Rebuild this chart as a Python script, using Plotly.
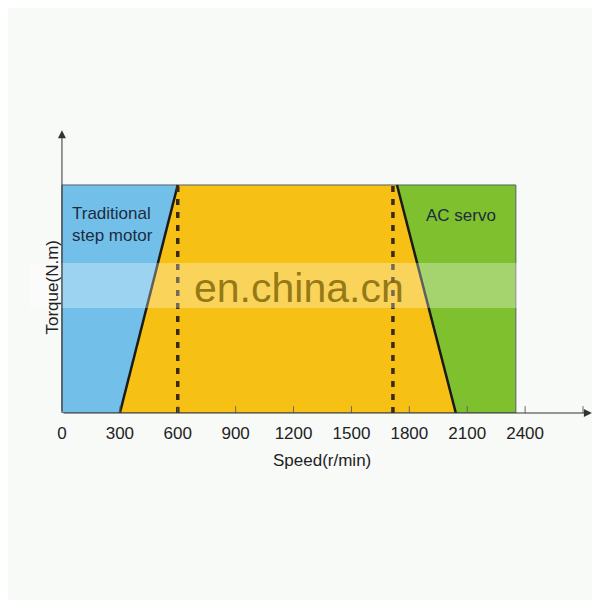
import plotly.graph_objects as go

# ---- data ----
tick_values = [0, 300, 600, 900, 1200, 1500, 1800, 2100, 2400, 2700]
tick_labels = ["0", "300", "600", "900", "1200", "1500", "1800", "2100", "2400", ""]

torque_top = 1.0
step_motor_x = [0, 300, 600, 0]          # blue region (traditional step motor)
step_motor_y = [0, 0, 1, 1]
overlap_x = [300, 600, 1736, 2041]        # yellow region
overlap_y = [0, 1, 1, 0]
servo_x = [1736, 2352, 2352, 2041]        # green region (AC servo)
servo_y = [1, 1, 0, 0]
dashed_speeds = [600, 1715]

BLUE = "#72C0EA"
YELLOW = "#F6C114"
GREEN = "#7EC02E"
TEXT = "#1E2C40"

fig = go.Figure()

def closed(xs, ys):
    return xs + [xs[0]], ys + [ys[0]]

for xs, ys, col in [(step_motor_x, step_motor_y, BLUE),
                    (servo_x, servo_y, GREEN),
                    (overlap_x, overlap_y, YELLOW)]:
    cx, cy = closed(xs, ys)
    fig.add_trace(go.Scatter(x=cx, y=cy, fill="toself", fillcolor=col,
                             mode="lines", line=dict(color="#55606a", width=1),
                             hoverinfo="skip", showlegend=False))

# sloped boundary lines
fig.add_trace(go.Scatter(x=[overlap_x[0], overlap_x[1]], y=[overlap_y[0], overlap_y[1]],
                         mode="lines", line=dict(color="#1a1a1a", width=2.5),
                         showlegend=False, hoverinfo="skip"))
fig.add_trace(go.Scatter(x=[overlap_x[3], overlap_x[2]], y=[overlap_y[3], overlap_y[2]],
                         mode="lines", line=dict(color="#1a1a1a", width=2.5),
                         showlegend=False, hoverinfo="skip"))

# dashed speed lines
for s in dashed_speeds:
    fig.add_trace(go.Scatter(x=[s, s], y=[0, torque_top], mode="lines",
                             line=dict(color="#3a2a10", width=3.5, dash="6px,7px"),
                             showlegend=False, hoverinfo="skip"))

# tick marks (drawn above the fills)
for v in tick_values[1:]:
    fig.add_shape(type="line", xref="x", yref="y", x0=v, x1=v, y0=0, y1=0.03,
                  line=dict(color="#666", width=1), layer="above")

# axes arrows
fig.add_annotation(x=2746, y=0, ax=0, ay=0, xref="x", yref="y", axref="x", ayref="y",
                   showarrow=True, arrowhead=2, arrowsize=1.6, arrowwidth=1,
                   arrowcolor="#333", text="")
fig.add_annotation(x=0, y=1.24, ax=0, ay=0, xref="x", yref="y", axref="x", ayref="y",
                   showarrow=True, arrowhead=2, arrowsize=1.6, arrowwidth=1,
                   arrowcolor="#333", text="")

# region labels
fig.add_annotation(x=41, y=0.825, xref="x", yref="y", text="Traditional<br>step motor",
                   showarrow=False, xanchor="left", align="left",
                   font=dict(family="Liberation Sans", size=17, color=TEXT))
fig.add_annotation(x=1875, y=0.868, xref="x", yref="y", text="AC servo",
                   showarrow=False, xanchor="left",
                   font=dict(family="Liberation Sans", size=17, color=TEXT))

# axis titles
fig.add_annotation(x=(40 - 50) / 550, y=(413 - 288) / 293, xref="paper", yref="paper",
                   text="Torque(N.m)", textangle=-90, showarrow=False,
                   font=dict(family="Liberation Sans", size=17, color="#222"))
fig.add_annotation(x=(322 - 50) / 550, y=-(472 - 413) / 293, xref="paper", yref="paper",
                   text="Speed(r/min)", showarrow=False,
                   font=dict(family="Liberation Sans", size=17, color="#222"))

# watermark band
fig.add_shape(type="rect", xref="paper", yref="paper",
              x0=(30 - 50) / 550, x1=(520 - 50) / 550,
              y0=(413 - 308) / 293, y1=(413 - 263) / 293,
              fillcolor="rgba(255,255,255,0.30)", line=dict(width=0), layer="above")
fig.add_annotation(x=(299 - 50) / 550, y=(413 - 288) / 293, xref="paper", yref="paper",
                   text="en.china.cn", showarrow=False,
                   font=dict(family="Liberation Sans", size=41, color="rgba(130,105,10,0.85)"))

fig.update_layout(
    width=600, height=600,
    margin=dict(l=42, r=8, t=112, b=195),
    paper_bgcolor="#F8FAF8", plot_bgcolor="rgba(0,0,0,0)",
    showlegend=False,
    xaxis=dict(range=[-62, 2788], showgrid=False, zeroline=False, showline=False,
               tickmode="array", tickvals=tick_values, ticktext=tick_labels,
               ticks="", ticklen=0, ticklabelstandoff=8,
               tickfont=dict(family="Liberation Sans", size=17, color="#222")),
    yaxis=dict(range=[0, 1.285], showgrid=False, zeroline=False, showline=False,
               showticklabels=False, ticks=""),
)

fig.write_html("out.html")
